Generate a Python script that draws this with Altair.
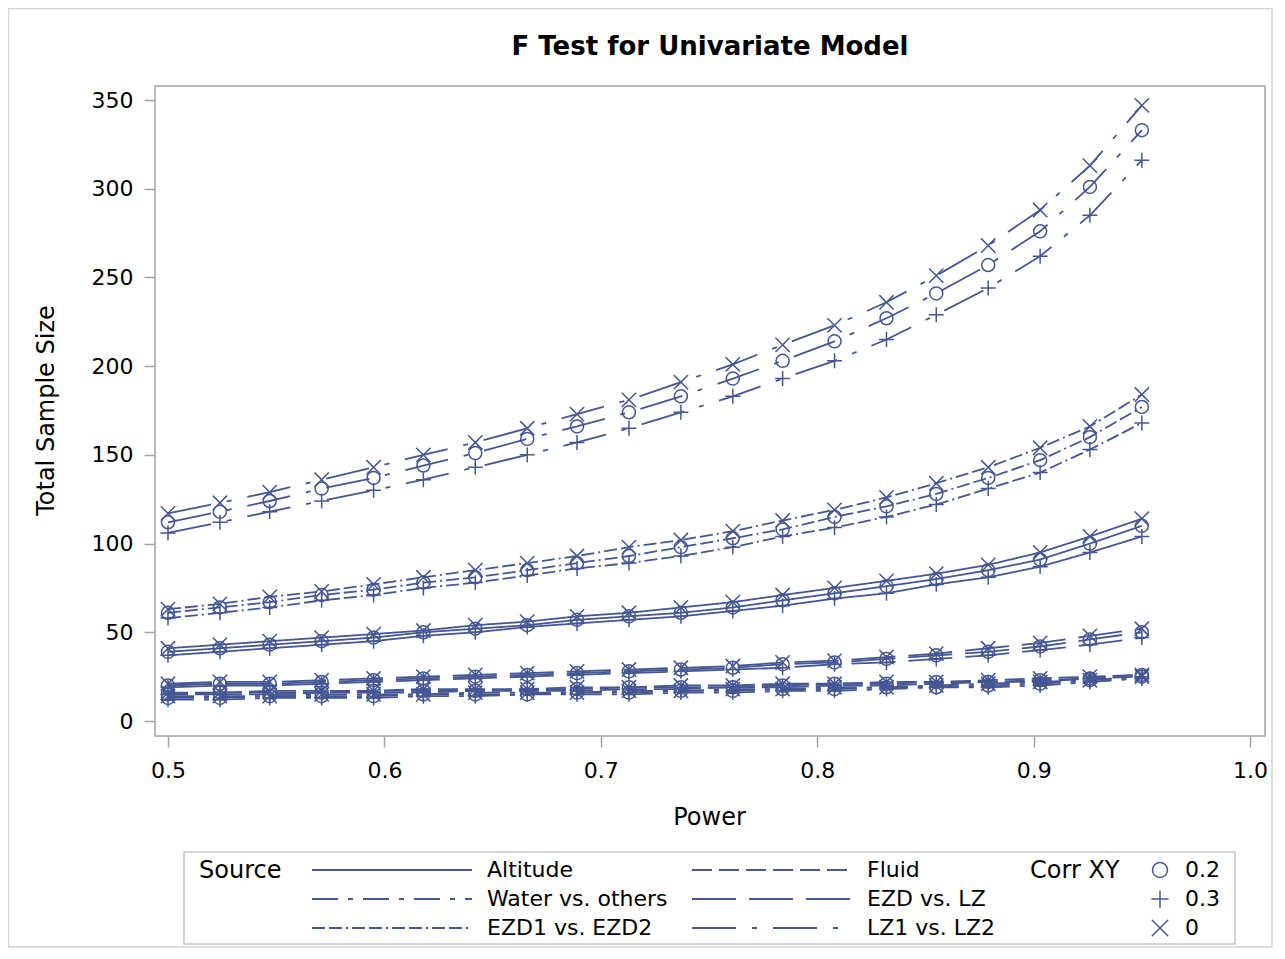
import altair as alt
import pandas as pd

# ---------------- data ----------------
power = [0.5, 0.524, 0.547, 0.571, 0.595, 0.618, 0.642, 0.666, 0.689, 0.713,
         0.737, 0.761, 0.784, 0.808, 0.832, 0.855, 0.879, 0.903, 0.926, 0.95]

sources = ["Altitude", "Fluid", "Water vs. others", "EZD vs. LZ", "EZD1 vs. EZD2", "LZ1 vs. LZ2"]
corrs = ["0.2", "0.3", "0"]

altitude_02 = [39, 41, 43, 45, 47, 50, 52, 54, 57, 59, 61, 64, 68, 72, 76, 80, 85, 91, 100, 110]
altitude_03 = [37, 39, 41, 43, 45, 48, 50, 53, 55, 57, 59, 62, 65, 69, 72, 77, 81, 87, 95, 104]
altitude_0 = [41, 43, 45, 47, 49, 51, 54, 56, 59, 61, 64, 67, 71, 75, 79, 83, 88, 95, 104, 114]

fluid_02 = [15, 16, 16, 16, 17, 17, 17, 18, 18, 19, 19, 19, 20, 21, 21, 22, 22, 23, 24, 26]
fluid_03 = [15, 15, 15, 16, 16, 16, 17, 17, 17, 18, 18, 19, 19, 20, 20, 21, 22, 22, 24, 25]
fluid_0 = [16, 16, 17, 17, 17, 18, 18, 18, 19, 19, 20, 20, 21, 21, 22, 22, 23, 24, 25, 26]

water_02 = [13, 13, 14, 14, 14, 15, 15, 15, 16, 16, 17, 17, 18, 18, 19, 19, 20, 21, 23, 25]
water_03 = [12, 12, 13, 13, 13, 14, 14, 15, 15, 15, 16, 16, 17, 17, 18, 19, 19, 20, 22, 24]
water_0 = [14, 14, 14, 15, 15, 15, 16, 16, 16, 17, 17, 18, 18, 19, 19, 20, 21, 22, 23, 25]

ezd_lz_02 = [20, 21, 21, 22, 23, 24, 25, 26, 27, 28, 29, 30, 32, 33, 35, 37, 39, 42, 46, 50]
ezd_lz_03 = [19, 20, 20, 21, 22, 23, 24, 25, 26, 27, 28, 29, 30, 32, 33, 35, 37, 40, 43, 47]
ezd_lz_0 = [21, 22, 22, 23, 24, 25, 26, 27, 28, 29, 30, 31, 33, 34, 36, 38, 41, 44, 48, 52]

ezd12_02 = [61, 64, 67, 71, 74, 78, 81, 85, 89, 93, 98, 103, 108, 115, 121, 128, 137, 147, 160, 177]
ezd12_03 = [58, 61, 64, 68, 71, 75, 78, 82, 86, 89, 93, 98, 104, 109, 115, 122, 131, 140, 153, 168]
ezd12_0 = [63, 66, 70, 73, 77, 81, 85, 89, 93, 98, 102, 107, 113, 119, 126, 134, 143, 154, 166, 184]

lz12_02 = [112, 118, 124, 131, 137, 144, 151, 159, 166, 174, 183, 193, 203, 214, 227, 241, 257, 276, 301, 333]
lz12_03 = [106, 112, 118, 124, 130, 136, 143, 150, 157, 165, 174, 183, 193, 203, 215, 229, 244, 262, 285, 316]
lz12_0 = [117, 123, 129, 136, 143, 150, 157, 165, 173, 181, 191, 201, 212, 223, 236, 251, 268, 288, 313, 347]

series = {
    ("Altitude", "0.2"): altitude_02, ("Altitude", "0.3"): altitude_03, ("Altitude", "0"): altitude_0,
    ("Fluid", "0.2"): fluid_02, ("Fluid", "0.3"): fluid_03, ("Fluid", "0"): fluid_0,
    ("Water vs. others", "0.2"): water_02, ("Water vs. others", "0.3"): water_03, ("Water vs. others", "0"): water_0,
    ("EZD vs. LZ", "0.2"): ezd_lz_02, ("EZD vs. LZ", "0.3"): ezd_lz_03, ("EZD vs. LZ", "0"): ezd_lz_0,
    ("EZD1 vs. EZD2", "0.2"): ezd12_02, ("EZD1 vs. EZD2", "0.3"): ezd12_03, ("EZD1 vs. EZD2", "0"): ezd12_0,
    ("LZ1 vs. LZ2", "0.2"): lz12_02, ("LZ1 vs. LZ2", "0.3"): lz12_03, ("LZ1 vs. LZ2", "0"): lz12_0,
}

rows = []
for (src, corr), vals in series.items():
    for p, n in zip(power, vals):
        rows.append({"power": p, "n": n, "source": src, "corr": corr})
df = pd.DataFrame(rows)

# ---------------- styling ----------------
C = "#445694"
FONT = "DejaVu Sans"
GRAY = "#a3a3a3"
dashes = [[1, 0], [20, 7], [26, 10, 5, 10], [44, 13], [13, 4, 13, 4, 2, 4], [44, 16, 5, 16]]
PLUS = "M-1.15,0L1.15,0M0,-1.15L0,1.15"
XSYM = "M-1.1,-1.1L1.1,1.1M-1.1,1.1L1.1,-1.1"

W, H = 1110, 650

xenc = alt.X("power:Q",
             scale=alt.Scale(domain=[0.494, 1.0069], nice=False, zero=False),
             axis=alt.Axis(values=[0.5, 0.6, 0.7, 0.8, 0.9, 1.0], format=".1f", title="Power",
                           labelBaseline="middle", labelPadding=23,
                           titleX=554, titleY=81, titleBaseline="middle", titleAlign="center"))
yenc = alt.Y("n:Q",
             scale=alt.Scale(domain=[-8.45, 357.9], nice=False, zero=False),
             axis=alt.Axis(values=[0, 50, 100, 150, 200, 250, 300, 350], format="d",
                           title="Total Sample Size", labelPadding=11,
                           titleX=-109, titleY=324, titleAngle=270,
                           titleBaseline="middle", titleAlign="center"))

lines = alt.Chart(df).mark_line(color=C, strokeWidth=1.8).encode(
    x=xenc, y=yenc,
    strokeDash=alt.StrokeDash(
        "source:N",
        scale=alt.Scale(domain=sources, range=dashes),
        legend=alt.Legend(title="Source", orient="none", legendX=44, legendY=773,
                          direction="horizontal",
                          titleOrient="left", titleAnchor="start", titleBaseline="top",
                          columns=2, padding=0, titlePadding=29,
                          labelOffset=14, rowPadding=7, columnPadding=23, clipHeight=22,
                          symbolType="stroke", symbolSize=25600, symbolStrokeColor=C,
                          symbolStrokeWidth=1.8, titleFontSize=24, labelFontSize=22,
                          titleFont=FONT, labelFont=FONT, titleFontWeight="normal",
                          titleColor="black", labelColor="black", labelLimit=400)),
    detail="corr:N",
)

points = alt.Chart(df).mark_point(color=C, filled=False, size=169, strokeWidth=1.5, opacity=1).encode(
    x=xenc, y=yenc,
    shape=alt.Shape(
        "corr:N",
        scale=alt.Scale(domain=corrs, range=["circle", PLUS, XSYM]),
        legend=alt.Legend(title="Corr XY", orient="none", legendX=875, legendY=773,
                          direction="vertical",
                          titleOrient="left", titleAnchor="start", titleBaseline="top",
                          padding=0, titlePadding=29,
                          labelOffset=14, rowPadding=7, clipHeight=22,
                          symbolSize=225, symbolStrokeColor=C, symbolFillColor="transparent",
                          symbolStrokeWidth=1.5, titleFontSize=24, labelFontSize=22,
                          titleFont=FONT, labelFont=FONT, titleFontWeight="normal",
                          titleColor="black", labelColor="black")),
    detail="source:N",
)

one = pd.DataFrame({"k": [0]})
legend_box = alt.Chart(one).mark_rect(fillOpacity=0, stroke="#c6c6c6", strokeWidth=1.5).encode(
    x=alt.value(29), x2=alt.value(1080), y=alt.value(766), y2=alt.value(858))
outer_box = alt.Chart(one).mark_rect(fillOpacity=0, stroke="#d4d4d4", strokeWidth=1.5).encode(
    x=alt.value(-146.5), x2=alt.value(W + 7), y=alt.value(-77.5), y2=alt.value(H + 211))

chart = alt.layer(outer_box, legend_box, lines, points).properties(
    width=W, height=H,
    background="white",
    title=alt.TitleParams("F Test for Univariate Model", font=FONT, fontSize=26,
                          fontWeight="bold", anchor="middle", offset=-52, color="black",
                          frame="group"),
    padding={"left": 147, "top": 78, "right": 8, "bottom": 212},
    autosize=alt.AutoSizeParams(type="none"),
).configure_view(stroke=GRAY, strokeWidth=1.5).configure_axis(
    domain=False, grid=False, tickColor=GRAY, tickWidth=1.5, tickSize=11,
    labelFont=FONT, labelFontSize=22, labelColor="black",
    titleFont=FONT, titleFontSize=24, titleFontWeight="normal", titleColor="black",
)

chart.save("out.html", embed_options={"renderer": "svg", "actions": False})
